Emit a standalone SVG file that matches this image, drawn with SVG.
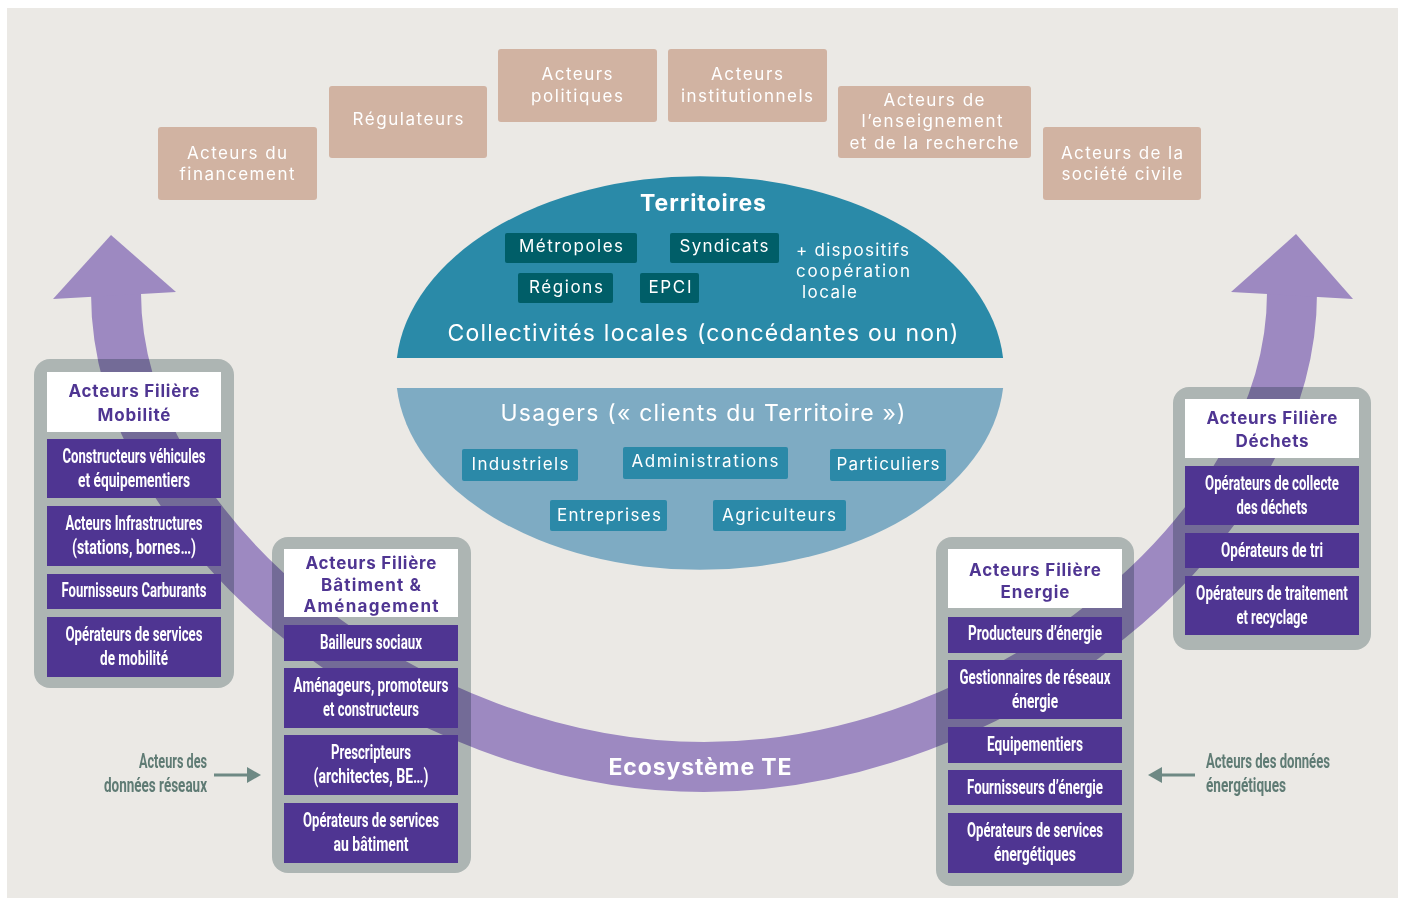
<svg xmlns="http://www.w3.org/2000/svg" width="1405" height="899" viewBox="0 0 1405 899">
<style>
text{dominant-baseline:central;text-anchor:middle}
.tan{fill:#d1b3a2}
.tt{font-family:Inter,Lato,sans-serif;font-size:17px;fill:#ffffff}
.frame{fill:#adb5b3}
.hdr{fill:#ffffff}
.pb{fill:#4f3592}
.ht{font-family:Inter,Lato,sans-serif;font-weight:700;font-size:17px;fill:#4f3592}
.ct{font-family:Roboto,"Liberation Sans",sans-serif;font-weight:700;font-size:20px;fill:#ffffff}
.dk{fill:#005e68}
.lb{fill:#2b89a8}
.wt{font-family:Inter,Lato,sans-serif;font-size:17px;fill:#ffffff}
.big{font-family:Inter,Lato,sans-serif;font-size:23px;fill:#ffffff}
.side{font-family:Roboto,"Liberation Sans",sans-serif;font-weight:700;font-size:20px;fill:#5f7b74}
.band{fill:#aa96d7;stroke:none}
</style>
<rect x="0" y="0" width="1405" height="899" fill="#ffffff"/>
<rect x="7" y="8" width="1391" height="890" fill="#ebe9e5"/>

<!-- top actor boxes -->
<g id="financement"><rect class="tan" x="158" y="127" width="159" height="73" rx="3"/>
<text class="tt" x="237" y="153" textLength="100" lengthAdjust="spacing">Acteurs du</text>
<text class="tt" x="237" y="174" textLength="115" lengthAdjust="spacing">financement</text></g>
<g id="regulateurs"><rect class="tan" x="329" y="86" width="158" height="72" rx="3"/>
<text class="tt" x="408" y="119" textLength="111" lengthAdjust="spacing">Régulateurs</text></g>
<g id="politiques"><rect class="tan" x="498" y="49" width="159" height="73" rx="3"/>
<text class="tt" x="577" y="74" textLength="71" lengthAdjust="spacing">Acteurs</text>
<text class="tt" x="577" y="96" textLength="92" lengthAdjust="spacing">politiques</text></g>
<g id="institutionnels"><rect class="tan" x="668" y="49" width="159" height="73" rx="3"/>
<text class="tt" x="747" y="74" textLength="72" lengthAdjust="spacing">Acteurs</text>
<text class="tt" x="747" y="96" textLength="132" lengthAdjust="spacing">institutionnels</text></g>
<g id="enseignement"><rect class="tan" x="838" y="86" width="193" height="72" rx="3"/>
<text class="tt" x="934" y="100" textLength="101" lengthAdjust="spacing">Acteurs de</text>
<text class="tt" x="932" y="121" textLength="141" lengthAdjust="spacing">l’enseignement</text>
<text class="tt" x="934" y="143" textLength="169" lengthAdjust="spacing">et de la recherche</text></g>
<g id="societe-civile"><rect class="tan" x="1043" y="127" width="158" height="73" rx="3"/>
<text class="tt" x="1122" y="153" textLength="122" lengthAdjust="spacing">Acteurs de la</text>
<text class="tt" x="1122" y="174" textLength="121" lengthAdjust="spacing">société civile</text></g>

<!-- Territoires -->
<g id="territoires">
<path d="M396.9,358 A304,197 0 0 1 1003.1,358 Z" fill="#2a8aa8"/>
<text class="big" x="703" y="203" font-weight="700" textLength="126" lengthAdjust="spacing">Territoires</text>
<rect class="dk" x="505" y="233" width="132" height="30" rx="2"/>
<text class="wt" x="571" y="246" textLength="104" lengthAdjust="spacing">Métropoles</text>
<rect class="dk" x="670" y="233" width="109" height="30" rx="2"/>
<text class="wt" x="724" y="246" textLength="89" lengthAdjust="spacing">Syndicats</text>
<rect class="dk" x="518" y="273" width="95" height="30" rx="2"/>
<text class="wt" x="566" y="287" textLength="74" lengthAdjust="spacing">Régions</text>
<rect class="dk" x="640" y="273" width="59" height="30" rx="2"/>
<text class="wt" x="670" y="287" textLength="43" lengthAdjust="spacing">EPCI</text>
<text class="wt" x="796" y="250" style="text-anchor:start" textLength="113" lengthAdjust="spacing">+ dispositifs</text>
<text class="wt" x="796" y="271" style="text-anchor:start" textLength="114" lengthAdjust="spacing">coopération</text>
<text class="wt" x="802" y="292" style="text-anchor:start" textLength="55" lengthAdjust="spacing">locale</text>
<text class="big" x="703" y="333" font-size="24" textLength="511" lengthAdjust="spacing">Collectivités locales (concédantes ou non)</text>
</g>

<!-- Usagers -->
<g id="usagers">
<path d="M396.9,388 A304,197 0 0 0 1003.1,388 Z" fill="#7eabc3"/>
<text class="big" x="703" y="413" font-size="24" textLength="405" lengthAdjust="spacing">Usagers (« clients du Territoire »)</text>
<rect class="lb" x="462" y="449" width="116" height="32" rx="2"/>
<text class="wt" x="520" y="464" textLength="97" lengthAdjust="spacing">Industriels</text>
<rect class="lb" x="623" y="447" width="165" height="32" rx="2"/>
<text class="wt" x="705" y="461" textLength="147" lengthAdjust="spacing">Administrations</text>
<rect class="lb" x="830" y="449" width="116" height="32" rx="2"/>
<text class="wt" x="888" y="464" textLength="103" lengthAdjust="spacing">Particuliers</text>
<rect class="lb" x="550" y="500" width="117" height="31" rx="2"/>
<text class="wt" x="609" y="515" textLength="104" lengthAdjust="spacing">Entreprises</text>
<rect class="lb" x="713" y="500" width="133" height="31" rx="2"/>
<text class="wt" x="779" y="515" textLength="114" lengthAdjust="spacing">Agriculteurs</text>
</g>

<!-- frames of the filière groups -->
<rect class="frame" x="34" y="359" width="200" height="329" rx="16"/>
<rect class="frame" x="272" y="537" width="199" height="336" rx="16"/>
<rect class="frame" x="936" y="537" width="198" height="349" rx="16"/>
<rect class="frame" x="1173" y="387" width="198" height="263" rx="16"/>

<!-- connectors: ecosystem band with arrowheads -->
<g id="connectors" style="mix-blend-mode:multiply">
<path d="M116,293 C116,532 410,767 704,767 C998,767 1292,532 1292,293" fill="none" stroke="#aa96d7" stroke-width="50"/>
<polygon class="band" points="111,235 53,299 176,292"/>
<polygon class="band" points="1296,234 1231,292 1353,299"/>
</g>
<text class="big" x="700" y="767" font-weight="700" textLength="183" lengthAdjust="spacing">Ecosystème TE</text>

<!-- Mobilité -->
<g id="mobilite">
<rect class="hdr" x="47" y="372" width="174" height="60"/>
<text class="ht" x="134" y="391" textLength="131" lengthAdjust="spacing">Acteurs Filière</text>
<text class="ht" x="134" y="415" textLength="73" lengthAdjust="spacing">Mobilité</text>
<rect class="pb" x="47" y="439" width="174" height="59"/>
<text class="ct" x="134" y="456" textLength="143" lengthAdjust="spacingAndGlyphs">Constructeurs véhicules</text>
<text class="ct" x="134" y="480" textLength="112" lengthAdjust="spacingAndGlyphs">et équipementiers</text>
<rect class="pb" x="47" y="506" width="174" height="60"/>
<text class="ct" x="134" y="523" textLength="137" lengthAdjust="spacingAndGlyphs">Acteurs Infrastructures</text>
<text class="ct" x="134" y="547" textLength="124" lengthAdjust="spacingAndGlyphs">(stations, bornes…)</text>
<rect class="pb" x="47" y="574" width="174" height="35"/>
<text class="ct" x="134" y="590" textLength="145" lengthAdjust="spacingAndGlyphs">Fournisseurs Carburants</text>
<rect class="pb" x="47" y="617" width="174" height="60"/>
<text class="ct" x="134" y="634" textLength="137" lengthAdjust="spacingAndGlyphs">Opérateurs de services</text>
<text class="ct" x="134" y="658" textLength="68" lengthAdjust="spacingAndGlyphs">de mobilité</text>
</g>

<!-- Bâtiment -->
<g id="batiment">
<rect class="hdr" x="284" y="549" width="174" height="68"/>
<text class="ht" x="371" y="563" textLength="131" lengthAdjust="spacing">Acteurs Filière</text>
<text class="ht" x="371" y="585" textLength="100" lengthAdjust="spacing">Bâtiment &amp;</text>
<text class="ht" x="371" y="606" textLength="135" lengthAdjust="spacing">Aménagement</text>
<rect class="pb" x="284" y="625" width="174" height="36"/>
<text class="ct" x="371" y="642" textLength="102" lengthAdjust="spacingAndGlyphs">Bailleurs sociaux</text>
<rect class="pb" x="284" y="668" width="174" height="60"/>
<text class="ct" x="371" y="685" textLength="155" lengthAdjust="spacingAndGlyphs">Aménageurs, promoteurs</text>
<text class="ct" x="371" y="709" textLength="96" lengthAdjust="spacingAndGlyphs">et constructeurs</text>
<rect class="pb" x="284" y="735" width="174" height="60"/>
<text class="ct" x="371" y="752" textLength="80" lengthAdjust="spacingAndGlyphs">Prescripteurs</text>
<text class="ct" x="371" y="776" textLength="115" lengthAdjust="spacingAndGlyphs">(architectes, BE…)</text>
<rect class="pb" x="284" y="803" width="174" height="60"/>
<text class="ct" x="371" y="820" textLength="136" lengthAdjust="spacingAndGlyphs">Opérateurs de services</text>
<text class="ct" x="371" y="844" textLength="75" lengthAdjust="spacingAndGlyphs">au bâtiment</text>
</g>

<!-- Energie -->
<g id="energie">
<rect class="hdr" x="948" y="549" width="174" height="59"/>
<text class="ht" x="1035" y="570" textLength="132" lengthAdjust="spacing">Acteurs Filière</text>
<text class="ht" x="1035" y="592" textLength="69" lengthAdjust="spacing">Energie</text>
<rect class="pb" x="948" y="617" width="174" height="36"/>
<text class="ct" x="1035" y="633" textLength="134" lengthAdjust="spacingAndGlyphs">Producteurs d’énergie</text>
<rect class="pb" x="948" y="660" width="174" height="59"/>
<text class="ct" x="1035" y="677" textLength="151" lengthAdjust="spacingAndGlyphs">Gestionnaires de réseaux</text>
<text class="ct" x="1035" y="701" textLength="46" lengthAdjust="spacingAndGlyphs">énergie</text>
<rect class="pb" x="948" y="727" width="174" height="36"/>
<text class="ct" x="1035" y="744" textLength="96" lengthAdjust="spacingAndGlyphs">Equipementiers</text>
<rect class="pb" x="948" y="770" width="174" height="35"/>
<text class="ct" x="1035" y="787" textLength="136" lengthAdjust="spacingAndGlyphs">Fournisseurs d’énergie</text>
<rect class="pb" x="948" y="813" width="174" height="60"/>
<text class="ct" x="1035" y="830" textLength="136" lengthAdjust="spacingAndGlyphs">Opérateurs de services</text>
<text class="ct" x="1035" y="854" textLength="82" lengthAdjust="spacingAndGlyphs">énergétiques</text>
</g>

<!-- Déchets -->
<g id="dechets">
<rect class="hdr" x="1185" y="399" width="174" height="59"/>
<text class="ht" x="1272" y="418" textLength="131" lengthAdjust="spacing">Acteurs Filière</text>
<text class="ht" x="1272" y="441" textLength="73" lengthAdjust="spacing">Déchets</text>
<rect class="pb" x="1185" y="466" width="174" height="59"/>
<text class="ct" transform="translate(1272,483) scale(0.6,1)" x="0" y="0" textLength="223" lengthAdjust="spacingAndGlyphs">Opérateurs de collecte</text>
<text class="ct" x="1272" y="507" textLength="71" lengthAdjust="spacingAndGlyphs">des déchets</text>
<rect class="pb" x="1185" y="533" width="174" height="35"/>
<text class="ct" x="1272" y="550" textLength="102" lengthAdjust="spacingAndGlyphs">Opérateurs de tri</text>
<rect class="pb" x="1185" y="576" width="174" height="59"/>
<text class="ct" transform="translate(1272,593) scale(0.6,1)" x="0" y="0" textLength="253" lengthAdjust="spacingAndGlyphs">Opérateurs de traitement</text>
<text class="ct" x="1272" y="617" textLength="71" lengthAdjust="spacingAndGlyphs">et recyclage</text>
</g>

<!-- data actors -->
<g id="donnees-reseaux">
<text class="side" x="207" y="761" style="text-anchor:end" textLength="68" lengthAdjust="spacingAndGlyphs">Acteurs des</text>
<text class="side" x="207" y="785" style="text-anchor:end" textLength="103" lengthAdjust="spacingAndGlyphs">données réseaux</text>
<line x1="214" y1="775" x2="249" y2="775" stroke="#6e8984" stroke-width="3"/>
<polygon points="247,767 261,775 247,783" fill="#6e8984"/>
</g>
<g id="donnees-energetiques">
<text class="side" x="1206" y="761" style="text-anchor:start" textLength="124" lengthAdjust="spacingAndGlyphs">Acteurs des données</text>
<text class="side" x="1206" y="785" style="text-anchor:start" textLength="80" lengthAdjust="spacingAndGlyphs">énergétiques</text>
<line x1="1160" y1="775" x2="1195" y2="775" stroke="#6e8984" stroke-width="3"/>
<polygon points="1162,767 1148,775 1162,783" fill="#6e8984"/>
</g>
</svg>
